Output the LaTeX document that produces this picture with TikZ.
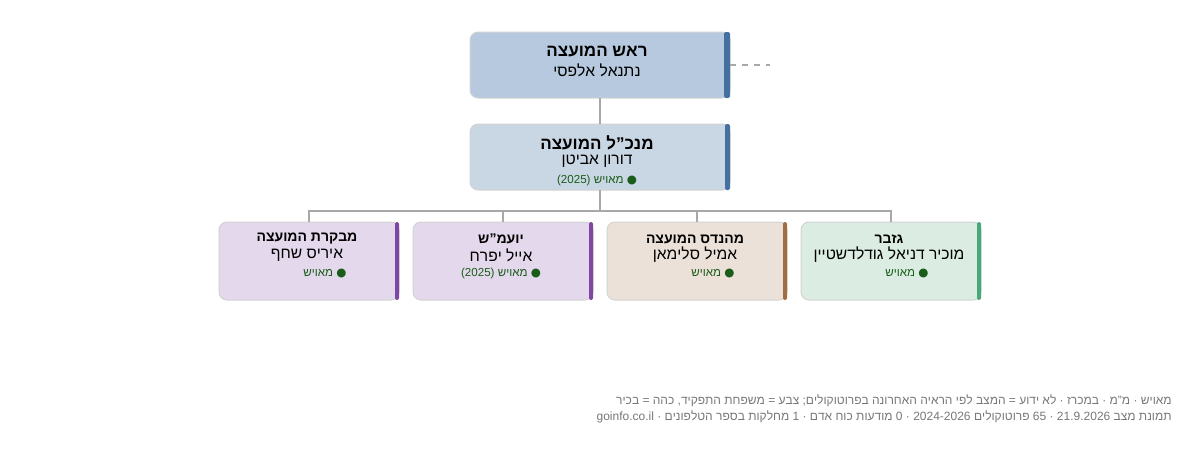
\documentclass[tikz,border=0pt]{standalone}
\usepackage{fontspec}
\setmainfont{Liberation Sans}
\newfontfamily\dotfont{DejaVu Sans}
\usetikzlibrary{positioning}
\TeXXeTstate=1
\newcommand{\heb}[1]{\beginR#1\endR}
\newcommand{\ltr}[1]{\beginL#1\endL}
\newcommand{\manned}[1]{\textcolor{okgreen}{\heb{{\dotfont ●} מאויש#1}}}
\definecolor{edgegray}{HTML}{A8A8A8}
\definecolor{rimgray}{HTML}{D3D3D3}
\definecolor{headfill}{HTML}{B7C9DE}
\definecolor{mgrfill}{HTML}{C9D6E3}
\definecolor{bluebar}{HTML}{44709F}
\definecolor{lavfill}{HTML}{E4D8EC}
\definecolor{lavbar}{HTML}{7F48A0}
\definecolor{tanfill}{HTML}{ECE1D8}
\definecolor{tanbar}{HTML}{A06E45}
\definecolor{mintfill}{HTML}{DBEDE2}
\definecolor{mintbar}{HTML}{4AA878}
\definecolor{okgreen}{HTML}{1A5C1A}
\definecolor{notegray}{HTML}{777777}

\tikzset{
	role/.style={draw=rimgray, rounded corners=4pt, line width=0.5pt},
	bar/.style={fill=#1, draw=none, rounded corners=1pt},
	link/.style={draw=edgegray, line width=0.6pt},
	note/.style={anchor=east, text=notegray, font=\fontsize{6}{7}\selectfont, inner sep=0pt}
}

\begin{document}
\begin{tikzpicture}[x=0.5pt, y=-0.5pt]
	\useasboundingbox (0,0) rectangle (1200,452);

	% boxes
	\draw [role, fill=headfill] (470,32) rectangle (730,98);
	\fill [bar=bluebar] (724,32) rectangle (730,98);
	\draw [role, fill=mgrfill] (470,124) rectangle (730,190);
	\fill [bar=bluebar] (725,124) rectangle (730,190);
	\foreach \x/\f/\b in {219/lavfill/lavbar, 413/lavfill/lavbar, 607/tanfill/tanbar, 801/mintfill/mintbar}{
		\draw [role, fill=\f] (\x,222) rectangle (\x+180,300);
		\fill [bar=\b] (\x+176,222) rectangle (\x+180,300);
	}

	% anchors for connectors
	\coordinate (head) at (600,98);
	\coordinate (mgr) at (600,124);
	\coordinate (mgrb) at (600,190);
	\coordinate (bus) at (600,211);
	\draw [link] (head) -- (mgr);
	\draw [link] (mgrb) -- (bus);
	\foreach \n/\x in {audit/309, legal/503, eng/697, treas/891}{
		\coordinate (\n) at (\x,222);
		\draw [link] (bus) -| (\n);
	}
	\coordinate (side) at (770,65);
	\draw [edgegray, dashed, line width=0.6pt] (730,65) -- (side);

	% texts
	\node (headT) at (597,52) {\fontsize{8.5}{10}\selectfont\bfseries\heb{ראש המועצה}};
	\node (headN) at (597,70) {\fontsize{7.8}{9}\selectfont\heb{נתנאל אלפסי}};
	\node (mgrT) at (597,143) {\fontsize{8.5}{10}\selectfont\bfseries\heb{מנכ"ל המועצה}};
	\node (mgrN) at (597,161) {\fontsize{7.8}{9}\selectfont\heb{דורון אביטן}};
	\node (mgrS) at (597,180) {\fontsize{5.8}{7}\selectfont\manned{ \ltr{(2025)}}};

	\node (auditT) at (307,239) {\fontsize{7}{8}\selectfont\bfseries\heb{מבקרת המועצה}};
	\node (auditN) at (307,255) {\fontsize{7.8}{9}\selectfont\heb{איריס שחף}};
	\node (auditS) at (325,273) {\fontsize{5.8}{7}\selectfont\manned{}};
	\node (legalT) at (501,239) {\fontsize{7}{8}\selectfont\bfseries\heb{יועמ"ש}};
	\node (legalN) at (501,255) {\fontsize{7.8}{9}\selectfont\heb{אייל יפרח}};
	\node (legalS) at (501,273) {\fontsize{5.8}{7}\selectfont\manned{ \ltr{(2025)}}};
	\node (engT) at (695,239) {\fontsize{7}{8}\selectfont\bfseries\heb{מהנדס המועצה}};
	\node (engN) at (695,255) {\fontsize{7.8}{9}\selectfont\heb{אמיל סלימאן}};
	\node (engS) at (713,273) {\fontsize{5.8}{7}\selectfont\manned{}};
	\node (treasT) at (889,239) {\fontsize{7}{8}\selectfont\bfseries\heb{גזבר}};
	\node (treasN) at (889,255) {\fontsize{7.8}{9}\selectfont\heb{מוכיר דניאל גודלדשטיין}};
	\node (treasS) at (907,273) {\fontsize{5.8}{7}\selectfont\manned{}};

	% legend
	\node [note] (legend) at (1172,401) {\heb{מאויש · מ"מ · במכרז · לא ידוע = המצב לפי הראיה האחרונה בפרוטוקולים; צבע = משפחת התפקיד, כהה = בכיר}};
	\node [note] (stamp) at (1172,417) {\heb{תמונת מצב \ltr{21.9.2026} · \ltr{65} פרוטוקולים \ltr{2024-2026} · \ltr{0} מודעות כוח אדם · \ltr{1} מחלקות בספר הטלפונים · \ltr{goinfo.co.il}}};
\end{tikzpicture}
\end{document}
